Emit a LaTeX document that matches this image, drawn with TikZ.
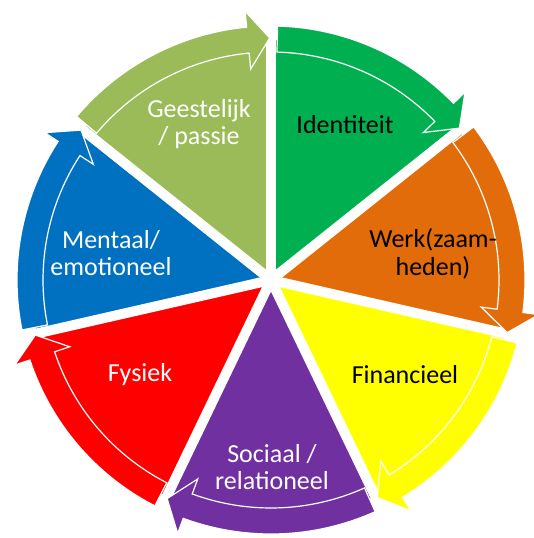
\documentclass[tikz,border=0pt]{standalone}
\usepackage{fontspec}
\setmainfont{Carlito}
\usepackage{xcolor}
\usepackage{tikz}
\usetikzlibrary{shapes.geometric, positioning, calc}

\definecolor{identgreen}{HTML}{00B050}
\definecolor{werkorange}{HTML}{E36C0A}
\definecolor{finyellow}{HTML}{FFFF00}
\definecolor{socpurple}{HTML}{7030A0}
\definecolor{fysred}{HTML}{FF0000}
\definecolor{mentblue}{HTML}{0070C0}
\definecolor{geestgreen}{HTML}{9BBB59}

\begin{document}
\begin{tikzpicture}[x=1pt, y=1pt,
        segtext/.style={font=\fontsize{26}{27.5}\selectfont, align=center},
        cyclearrow/.style={draw=white, line width=1.2pt, line join=miter}]
    \useasboundingbox (-271,-258) rectangle (263,280);

    % pie wedges
    \foreach \s/\col in {90/identgreen, 38.571/werkorange, -12.857/finyellow,
                         -64.286/socpurple, -115.714/fysred, -167.143/mentblue,
                         -218.571/geestgreen} {
        \pgfmathsetmacro{\e}{\s-51.429}
        \fill[\col] (0,0) -- (\s:240) arc[start angle=\s, end angle=\e, radius=240] -- cycle;
    }

    % white gaps between the wedges
    \foreach \s in {90, 38.571, -12.857, -64.286, -115.714, -167.143, -218.571} {
        \draw[white, line width=10pt] (0,0) -- (\s:300);
    }

    % curved arrows round the rim
    \foreach \s/\col in {90/identgreen, 38.571/werkorange, -12.857/finyellow,
                         -64.286/socpurple, -115.714/fysred, -167.143/mentblue,
                         -218.571/geestgreen} {
        \pgfmathsetmacro{\a}{\s-1.5}
        \pgfmathsetmacro{\n}{\s-51.429+5.5}
        \pgfmathsetmacro{\t}{\s-51.429+0.3}
        \filldraw[cyclearrow, fill=\col]
            (\a:254) arc[start angle=\a, end angle=\n, radius=254]
            -- (\n:270) -- (\t:242) -- (\n:212) -- (\n:228)
            arc[start angle=\n, end angle=\a, radius=228] -- cycle;
    }

    \node (geestelijk) [segtext, white] at (-72,156) {Geestelijk\\/ passie};
    \node (identiteit) [segtext, black] at (74,155) {Identiteit};
    \node (werk) [segtext, black] at (162,26) {Werk(zaam-\\heden)};
    \node (financieel) [segtext, black] at (134,-95) {Financieel};
    \node (sociaal) [segtext, white] at (1,-187) {Sociaal /\\relationeel};
    \node (fysiek) [segtext, white] at (-131,-95) {Fysiek};
    \node (mentaal) [segtext, white] at (-160,27) {Mentaal/\\emotioneel};
\end{tikzpicture}
\end{document}
